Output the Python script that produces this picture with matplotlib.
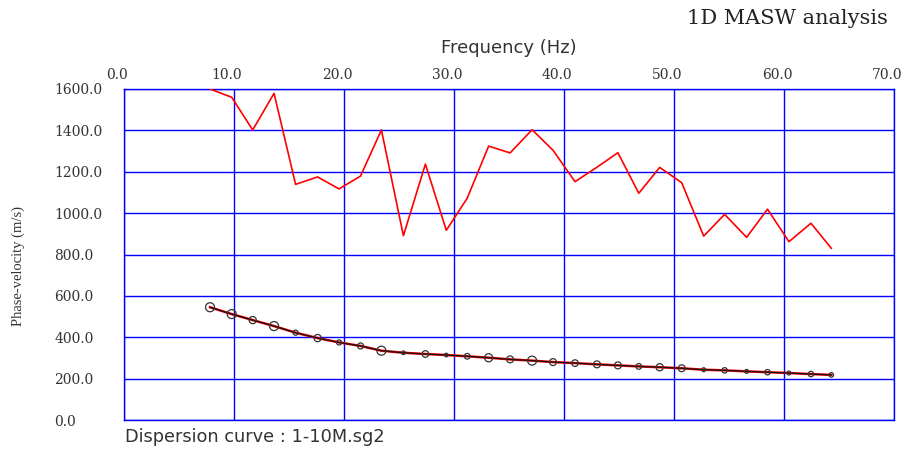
import matplotlib
matplotlib.use("Agg")
import numpy as np
import matplotlib.pyplot as plt
from matplotlib.transforms import ScaledTranslation

# picked frequencies (Hz)
freq = [7.82, 9.79, 11.7, 13.64, 15.6, 17.6, 19.55, 21.5, 23.4, 25.4,
        27.4, 29.3, 31.2, 33.15, 35.1, 37.1, 39.0, 41.0, 43.0, 44.9,
        46.8, 48.7, 50.7, 52.7, 54.6, 56.6, 58.5, 60.45, 62.45, 64.3]
# maximum-energy phase velocity (m/s), red trace
vmax = [1600, 1560, 1402, 1579, 1139, 1175, 1117, 1179, 1402, 891,
        1237, 917, 1072, 1324, 1291, 1403, 1304, 1152, 1222, 1292,
        1096, 1221, 1147, 889, 994, 883, 1019, 862, 951, 830]
# picked dispersion curve (m/s)
vdisp = [545, 512, 483, 454, 422, 396, 375, 358, 335, 325,
         319, 314, 308, 301, 293, 287, 280, 275, 269, 264,
         259, 255, 250, 243, 240, 235, 231, 227, 222, 218]
# relative amplitude of each pick (0..1)
amp = [1.0, 1.0, 0.7, 1.0, 0.35, 0.7, 0.35, 0.5, 1.0, 0.1,
       0.6, 0.1, 0.45, 0.85, 0.65, 1.0, 0.65, 0.6, 0.65, 0.65,
       0.45, 0.7, 0.65, 0.15, 0.4, 0.15, 0.4, 0.15, 0.4, 0.25]

xticks = np.arange(0, 71, 10)
yticks = np.arange(0, 1601, 200)

fig = plt.figure(figsize=(9.04, 4.5), dpi=100)
ax = fig.add_axes([124/904, 1-420/450, 770/904, 331/450])

ax.plot(freq, vmax, color="#ff0000", lw=1.2, zorder=3)
ax.plot(freq, vdisp, color="#ff0000", lw=1.8, zorder=3)
ax.plot(freq, vdisp, color="#111111", lw=0.9, zorder=4)
diam = 3 + 6 * np.array(amp)          # marker diameter in px
ax.scatter(freq, vdisp, s=(diam*0.72)**2, facecolors="none",
           edgecolors="#333333", linewidths=0.9, zorder=5)

ax.set_xlim(0, 70)
ax.set_ylim(0, 1600)
ax.set_xticks(xticks)
ax.set_yticks(yticks)
ax.set_xticklabels([f"{v:.1f}" for v in xticks], family="DejaVu Serif",
                   fontsize=10, color="#333333")
ax.set_yticklabels([f"{v:.1f}" for v in yticks], family="DejaVu Serif",
                   fontsize=10, color="#333333", ha="left")
ax.xaxis.tick_top()
ax.tick_params(axis="x", length=0, pad=5)
ax.tick_params(axis="y", length=0, pad=50)
shift = ScaledTranslation(-0.07, 0, fig.dpi_scale_trans)
for lab in ax.get_xticklabels():
    lab.set_transform(lab.get_transform() + shift)

ax.grid(True, color="#0000ff", lw=1.0)
ax.set_axisbelow(True)
for s in ax.spines.values():
    s.set_color("#0000ff")
    s.set_linewidth(1.0)

fig.text(888/904, 1-18/450, "1D MASW analysis", ha="right", va="center",
         family="DejaVu Serif", fontsize=15, color="#222222")
fig.text(509/904, 1-48/450, "Frequency (Hz)", ha="center", va="center",
         family="DejaVu Sans", fontsize=13, color="#333333")
fig.text(125/904, 1-437/450, "Dispersion curve : 1-10M.sg2", ha="left",
         va="center", family="DejaVu Sans", fontsize=12.8, color="#333333")
fig.text(18/904, 1-266/450, "Phase-velocity (m/s)", ha="center", va="center",
         rotation=90, family="Liberation Serif", fontsize=10.5, color="#333333")

fig.savefig("out.png", dpi=100)
